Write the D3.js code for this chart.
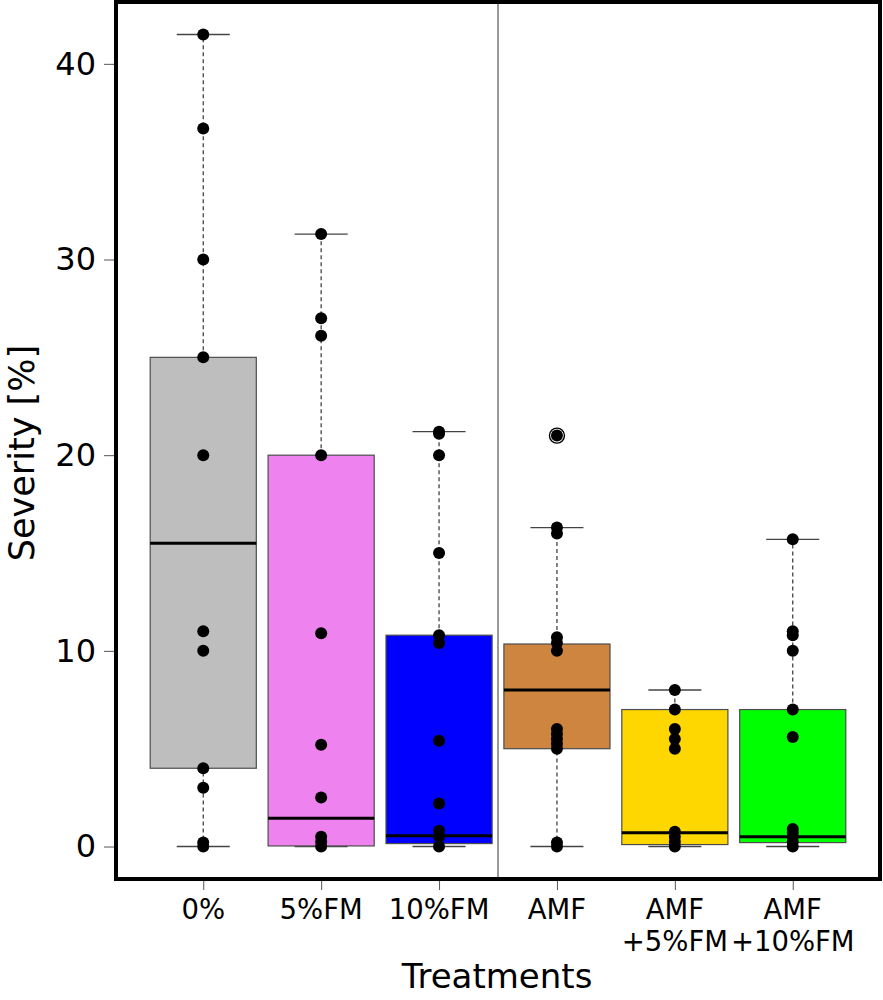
<!DOCTYPE html>
<html>
<head>
<meta charset="utf-8">
<script src="https://cdn.jsdelivr.net/npm/d3@7"></script>
<style>
  body { margin: 0; background: #fff; }
  svg { display: block; font-family: "DejaVu Sans", Verdana, sans-serif; }
</style>
</head>
<body>
<svg width="883" height="1000"></svg>
<script>
// treatments (label lines) and box fill colours
const categories = [["0%"], ["5%FM"], ["10%FM"], ["AMF"], ["AMF", "+5%FM"], ["AMF", "+10%FM"]];
const boxColors = ["#bebebe", "#ee82ee", "#0000ff", "#cd853f", "#ffd700", "#00ff00"];

// box statistics
const whiskerLow = [0, 0, 0, 0, 0, 0];
const q1 = [4, 0.03, 0.15, 5, 0.1, 0.2];
const medians = [15.5, 1.45, 0.55, 8, 0.7, 0.5];
const q3 = [25, 20, 10.8, 10.35, 7, 7];
const whiskerHigh = [41.5, 31.3, 21.2, 16.3, 8, 15.7];

// individual observations
const pts0 = [0, 0.2, 3, 4, 10, 11, 20, 25, 30, 36.7, 41.5];
const pts5FM = [0, 0.25, 0.5, 2.5, 5.2, 10.9, 20, 26.1, 27, 31.3];
const pts10FM = [0, 0.5, 0.8, 2.2, 5.4, 10.4, 10.8, 15, 20, 21.1, 21.2];
const ptsAMF = [0, 0.2, 5, 5.25, 5.5, 5.75, 6, 10, 10.4, 10.7, 16, 16.3, 21];
const ptsAMF5 = [0, 0.25, 0.5, 0.75, 5, 5.5, 6, 7, 8];
const ptsAMF10 = [0, 0.25, 0.5, 0.7, 0.9, 5.6, 7, 10, 10.8, 11, 15.7];
const points = [pts0, pts5FM, pts10FM, ptsAMF, ptsAMF5, ptsAMF10];

// outliers (group index, value)
const outliers = [[3, 21]];

const yTicks = [0, 10, 20, 30, 40];

const svg = d3.select("svg");
const plotLeft = 116, plotRight = 880, plotTop = 2, plotBottom = 879;

const x = d3.scaleLinear().domain([0.26, 6.74]).range([plotLeft, plotRight]);
const y = d3.scaleLinear().domain([-1.66, 43.16]).range([plotBottom, plotTop]);

const boxHalf = 0.45;
const capHalf = 0.225;

const groups = categories.map((c, i) => ({
  i, pos: i + 1,
  lo: whiskerLow[i], q1: q1[i], med: medians[i], q3: q3[i], hi: whiskerHigh[i],
  color: boxColors[i], pts: points[i]
}));

const plot = svg.append("g");

// whiskers (dashed)
plot.selectAll(".whisk-lo")
  .data(groups)
  .join("line")
  .attr("class", "whisk-lo")
  .attr("x1", d => x(d.pos)).attr("x2", d => x(d.pos))
  .attr("y1", d => y(d.lo)).attr("y2", d => y(d.q1))
  .attr("stroke", "#333").attr("stroke-width", 1.2)
  .attr("stroke-dasharray", "4,3");

plot.selectAll(".whisk-hi")
  .data(groups)
  .join("line")
  .attr("class", "whisk-hi")
  .attr("x1", d => x(d.pos)).attr("x2", d => x(d.pos))
  .attr("y1", d => y(d.q3)).attr("y2", d => y(d.hi))
  .attr("stroke", "#333").attr("stroke-width", 1.2)
  .attr("stroke-dasharray", "4,3");

// whisker caps
["lo", "hi"].forEach(k => {
  plot.selectAll(".cap-" + k)
    .data(groups)
    .join("line")
    .attr("class", "cap-" + k)
    .attr("x1", d => x(d.pos - capHalf)).attr("x2", d => x(d.pos + capHalf))
    .attr("y1", d => y(d[k])).attr("y2", d => y(d[k]))
    .attr("stroke", "#444").attr("stroke-width", 1.3);
});

// boxes
plot.selectAll(".box")
  .data(groups)
  .join("rect")
  .attr("class", "box")
  .attr("x", d => x(d.pos - boxHalf))
  .attr("width", d => x(d.pos + boxHalf) - x(d.pos - boxHalf))
  .attr("y", d => y(d.q3))
  .attr("height", d => y(d.q1) - y(d.q3))
  .attr("fill", d => d.color)
  .attr("stroke", "#4d4d4d").attr("stroke-width", 1.2);

// medians
plot.selectAll(".median")
  .data(groups)
  .join("line")
  .attr("class", "median")
  .attr("x1", d => x(d.pos - boxHalf)).attr("x2", d => x(d.pos + boxHalf))
  .attr("y1", d => y(d.med)).attr("y2", d => y(d.med))
  .attr("stroke", "#000").attr("stroke-width", 3);

// outlier rings
plot.selectAll(".outlier")
  .data(outliers)
  .join("circle")
  .attr("class", "outlier")
  .attr("cx", d => x(d[0] + 1)).attr("cy", d => y(d[1]))
  .attr("r", 7.5)
  .attr("fill", "#fff").attr("stroke", "#000").attr("stroke-width", 1.4);

// observations
const flat = groups.flatMap(g => g.pts.map(v => ({ pos: g.pos, v })));
plot.selectAll(".pt")
  .data(flat)
  .join("circle")
  .attr("class", "pt")
  .attr("cx", d => x(d.pos)).attr("cy", d => y(d.v))
  .attr("r", 6)
  .attr("fill", "#000");

// separator between groups
svg.append("line")
  .attr("x1", x(3.5)).attr("x2", x(3.5))
  .attr("y1", plotTop).attr("y2", plotBottom)
  .attr("stroke", "#555").attr("stroke-width", 1.2);

// frame
svg.append("rect")
  .attr("x", plotLeft).attr("y", plotTop)
  .attr("width", plotRight - plotLeft).attr("height", plotBottom - plotTop)
  .attr("fill", "none").attr("stroke", "#000").attr("stroke-width", 4);

// y axis
const yAxis = svg.append("g")
  .attr("transform", `translate(${plotLeft - 2},0)`)
  .call(d3.axisLeft(y).tickValues(yTicks).tickSize(10).tickPadding(8));
yAxis.select(".domain").remove();
yAxis.selectAll(".tick line").attr("stroke", "#555");
yAxis.selectAll(".tick text")
  .attr("fill", "#000")
  .style("font-size", "32px")
  .style("font-family", "DejaVu Sans, sans-serif");

// x axis
const xAxis = svg.append("g")
  .attr("transform", `translate(0,${plotBottom + 2})`)
  .call(d3.axisBottom(x).tickValues([1, 2, 3, 4, 5, 6]).tickSize(9).tickFormat(""));
xAxis.select(".domain").remove();
xAxis.selectAll(".tick line").attr("stroke", "#555");

const xl = svg.append("g");
categories.forEach((lines, i) => {
  const t = xl.append("text")
    .attr("x", x(i + 1))
    .attr("y", 919)
    .attr("text-anchor", "middle")
    .style("font-size", "27.5px");
  lines.forEach((s, j) => {
    t.append("tspan")
      .attr("x", x(i + 1))
      .attr("y", 919 + j * 32)
      .text(s);
  });
});

// axis titles
svg.append("text")
  .attr("x", 497).attr("y", 988)
  .attr("text-anchor", "middle")
  .style("font-size", "34px")
  .text("Treatments");

svg.append("text")
  .attr("transform", "translate(34,453) rotate(-90)")
  .attr("text-anchor", "middle")
  .style("font-size", "35px")
  .text("Severity [%]");
</script>
</body>
</html>
